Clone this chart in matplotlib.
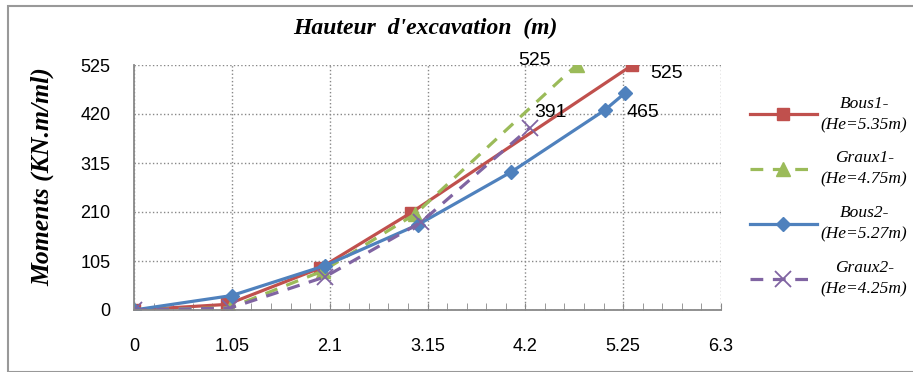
import matplotlib.pyplot as plt
from matplotlib.ticker import MultipleLocator

# données
x_bous1 = [0, 1.0, 2.0, 2.97, 5.35]
m_bous1 = [0, 12, 90, 208, 525]
x_graux1 = [0, 1.03, 2.03, 3.02, 4.75]
m_graux1 = [0, 5, 84, 206, 525]
x_bous2 = [0, 1.05, 2.05, 3.05, 4.05, 5.05, 5.27]
m_bous2 = [0, 31, 95, 183, 296, 428, 465]
x_graux2 = [0, 1.03, 2.05, 3.08, 4.25]
m_graux2 = [0, 4, 71, 188, 391]
noms = ["Bous1-\n(He=5.35m)", "Graux1-\n(He=4.75m)",
        "Bous2-\n(He=5.27m)", "Graux2-\n(He=4.25m)"]
xticks = [0, 1.05, 2.1, 3.15, 4.2, 5.25, 6.3]
yticks = [0, 105, 210, 315, 420, 525]

rouge, vert, bleu, violet = "#C0504D", "#9BBB59", "#4F81BD", "#8064A2"

fig = plt.figure(figsize=(9.13, 3.72), dpi=100)
ax = fig.add_axes([134 / 913, 1 - 310 / 372, 587 / 913, 245 / 372])

ax.plot(x_bous1, m_bous1, color=rouge, lw=2.3, marker="s", ms=9, label=noms[0])
ax.plot(x_graux1, m_graux1, color=vert, lw=2.3, ls=(0, (4, 3)), marker="^", ms=10,
        label=noms[1])
ax.plot(x_bous2, m_bous2, color=bleu, lw=2.3, marker="D", ms=7.5, label=noms[2])
ax.plot(x_graux2, m_graux2, color=violet, lw=2.3, ls=(0, (4, 3)), marker="x", ms=11,
        mew=1.3, label=noms[3])

# étiquettes des valeurs
police = {"fontsize": 14, "fontfamily": "Liberation Sans", "va": "center"}
ax.annotate(f"{m_graux1[-1]}", (x_graux1[-1], m_graux1[-1]), xytext=(-42, 3),
            textcoords="offset points", **police)
ax.annotate(f"{m_bous1[-1]}", (x_bous1[-1], m_bous1[-1]), xytext=(13, -6),
            textcoords="offset points", **police)
ax.annotate(f"{m_bous2[-1]}", (x_bous2[-1], m_bous2[-1]), xytext=(1, -14),
            textcoords="offset points", **police)
ax.annotate(f"{m_graux2[-1]}", (x_graux2[-1], m_graux2[-1]), xytext=(3, 11),
            textcoords="offset points", **police)

ax.set_xlim(0, 6.3)
ax.set_ylim(0, 525)
ax.set_xticks(xticks)
ax.set_xticklabels([f"{t:g}" for t in xticks])
ax.set_yticks(yticks)
ax.xaxis.set_minor_locator(MultipleLocator(0.21))
ax.tick_params(axis="x", which="both", direction="in", length=5, color="#888888",
               pad=20, labelsize=13)
ax.tick_params(axis="y", length=0, pad=17, labelsize=13)
for lab in ax.get_xticklabels() + ax.get_yticklabels():
    lab.set_fontfamily("Liberation Sans")
ax.grid(True, ls=":", color="#888888", lw=1)
for s in ["top", "right"]:
    ax.spines[s].set_visible(False)
for s in ["left", "bottom"]:
    ax.spines[s].set_color("#888888")
    ax.spines[s].set_linewidth(1.3)

fig.text(425 / 913, 1 - 28 / 372, "Hauteur  d'excavation  (m)", ha="center",
         va="center", fontsize=17, fontweight="bold", fontstyle="italic",
         fontfamily="Liberation Serif")
fig.text(43 / 913, 1 - 177 / 372, "Moments (KN.m/ml)", ha="center", va="center",
         rotation=90, fontsize=18.5, fontweight="bold", fontstyle="italic",
         fontfamily="Liberation Serif")

leg = fig.legend(loc="upper left", bbox_to_anchor=(734 / 913, 1 - 80 / 372),
                 frameon=False, handlelength=3.9, handletextpad=0.2,
                 labelspacing=1.0,
                 prop={"family": "Liberation Serif", "style": "italic", "size": 12.5})
for t in leg.get_texts():
    t.set_multialignment("center")
    t.set_linespacing(1.45)

fig.add_artist(plt.Rectangle((8 / 913, 0), 1, 1 - 6 / 372, transform=fig.transFigure,
                             fill=False, ec="#999999", lw=1.5))

plt.savefig("out.png", dpi=100)
plt.close()
